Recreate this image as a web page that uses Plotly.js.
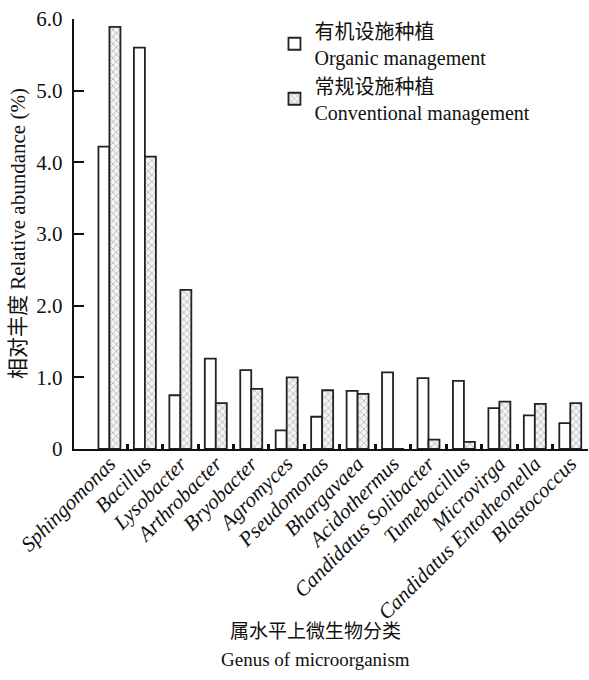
<!DOCTYPE html>
<html>
<head>
<meta charset="utf-8">
<script src="https://cdn.plot.ly/plotly-3.0.1.min.js"></script>
<style>
  html, body { margin: 0; padding: 0; background: #fff; }
  #chart { width: 589px; height: 680px; }
</style>
</head>
<body>
<div id="chart"></div>
<script>
// Genus-level relative abundance (%) under two greenhouse management systems
const genera = [
  'Sphingomonas', 'Bacillus', 'Lysobacter', 'Arthrobacter', 'Bryobacter',
  'Agromyces', 'Pseudomonas', 'Bhargavaea', 'Acidothermus',
  'Candidatus Solibacter', 'Tumebacillus', 'Microvirga',
  'Candidatus Entotheonella', 'Blastococcus'
];
const organic = [4.22, 5.60, 0.75, 1.26, 1.10, 0.26, 0.45, 0.81, 1.07, 0.99, 0.95, 0.57, 0.47, 0.36];
const conventional = [5.89, 4.08, 2.22, 0.64, 0.84, 1.00, 0.82, 0.77, 0.00, 0.13, 0.10, 0.66, 0.63, 0.64];

const yTickVals = [0, 1, 2, 3, 4, 5, 6];
const yTickText = ['0', '1.0', '2.0', '3.0', '4.0', '5.0', '6.0'];

// separators between neighbouring genera
const boundaryTicks = genera.map((g, i) => i + 0.5);

const serif = "'Liberation Serif', 'Times New Roman', 'Noto Sans CJK SC', serif";
const ink = '#111';

const traces = [
  {
    type: 'bar',
    name: '有机设施种植<br>Organic management',
    x: genera,
    y: organic,
    marker: { color: '#ffffff', line: { color: '#222', width: 1.8 } }
  },
  {
    type: 'bar',
    name: '常规设施种植<br>Conventional management',
    x: genera,
    y: conventional,
    marker: {
      color: '#ffffff',
      line: { color: '#222', width: 1.8 },
      pattern: { shape: 'x', fgcolor: '#a0a0a0', bgcolor: '#f4f4f4', size: 5, solidity: 0.22 }
    }
  },
  {
    // carries the separator ticks on the overlay axis
    type: 'scatter', x: [], y: [], xaxis: 'x2', yaxis: 'y',
    showlegend: false, hoverinfo: 'skip'
  }
];

const layout = {
  width: 589,
  height: 680,
  margin: { l: 74, r: 1, t: 19, b: 231 },
  paper_bgcolor: '#fff',
  plot_bgcolor: '#fff',
  font: { family: serif, color: ink, size: 20 },
  barmode: 'group',
  bargap: 0.38,
  bargroupgap: 0,
  showlegend: true,
  legend: {
    x: 0.39, xanchor: 'left', y: 1.018, yanchor: 'top',
    bgcolor: 'rgba(0,0,0,0)',
    font: { family: serif, size: 20, color: ink },
    itemwidth: 30,
    tracegroupgap: 0
  },
  xaxis: {
    type: 'category',
    range: [-1, 13.5],
    showline: true, linecolor: ink, linewidth: 2.2,
    ticks: '', showgrid: false, zeroline: false,
    tickangle: -45,
    ticklabelstandoff: -8,
    tickfont: { family: serif, size: 21, style: 'italic', color: ink },
    automargin: false
  },
  xaxis2: {
    overlaying: 'x', anchor: 'y', type: 'linear',
    range: [-1, 13.5],
    tickmode: 'array', tickvals: boundaryTicks,
    ticks: 'inside', ticklen: 5, tickwidth: 3, tickcolor: ink,
    showticklabels: false, showgrid: false, zeroline: false, showline: false
  },
  yaxis: {
    range: [0, 6],
    showline: true, linecolor: ink, linewidth: 2.2,
    tickmode: 'array', tickvals: yTickVals, ticktext: yTickText,
    ticks: 'inside', ticklen: 10, tickwidth: 2, tickcolor: ink,
    ticklabelstandoff: 5,
    showgrid: false, zeroline: false,
    tickfont: { family: serif, size: 21, color: ink },
    automargin: false
  },
  annotations: [
    {
      // y-axis title
      xref: 'paper', yref: 'paper', x: -0.109, y: 0.502,
      xanchor: 'center', yanchor: 'middle', showarrow: false, textangle: -90,
      text: '相对丰度 Relative abundance (%)',
      font: { family: serif, size: 21, color: ink }
    },
    {
      xref: 'paper', yref: 'paper', x: 0.469, y: -0.425,
      xanchor: 'center', yanchor: 'middle', showarrow: false,
      text: '属水平上微生物分类',
      font: { family: serif, size: 19, color: ink }
    },
    {
      xref: 'paper', yref: 'paper', x: 0.469, y: -0.49,
      xanchor: 'center', yanchor: 'middle', showarrow: false,
      text: 'Genus of microorganism',
      font: { family: serif, size: 19, color: ink }
    }
  ]
};

Plotly.newPlot('chart', traces, layout, { displayModeBar: false, staticPlot: true });
</script>
</body>
</html>
